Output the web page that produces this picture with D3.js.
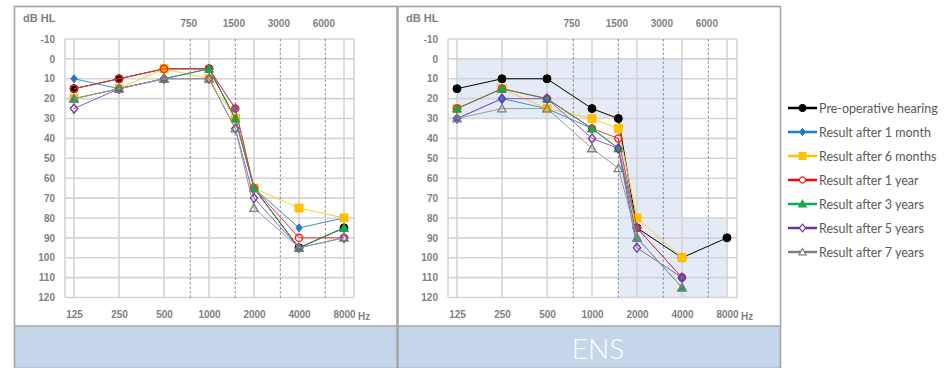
<!DOCTYPE html>
<html>
<head>
<meta charset="utf-8">
<script src="https://cdn.jsdelivr.net/npm/d3@7"></script>
<style>
  html, body { margin: 0; padding: 0; background: #fff; }
  svg { display: block; }
</style>
</head>
<body>
<svg id="chart" width="949" height="368"></svg>
<script>
// Octave frequencies on the audiogram x axis
const octaveLabels = ["125", "250", "500", "1000", "2000", "4000", "8000"];
// Half-octave frequencies drawn as dashed lines
const halfOctaveLabels = ["750", "1500", "3000", "6000"];
// Frequencies at which thresholds were measured
const measuredFreqs = [125, 250, 500, 1000, 1500, 2000, 4000, 8000];
// dB HL ticks
const dbTicks = [-10, 0, 10, 20, 30, 40, 50, 60, 70, 80, 90, 100, 110, 120];

const seriesNames = [
  "Pre-operative hearing",
  "Result after 1 month",
  "Result after 6 months",
  "Result after 1 year",
  "Result after 3 years",
  "Result after 5 years",
  "Result after 7 years"
];

// Left panel thresholds (dB HL), one value per measured frequency
const leftPreOp    = [15, 10, 5, 5, 30, 65, 95, 85];
const left1Month   = [10, 15, 10, 5, 25, 65, 85, 80];
const left6Months  = [20, 15, 5, 10, 30, 65, 75, 80];
const left1Year    = [15, 10, 5, 5, 25, 65, 90, 90];
const left3Years   = [20, 15, 10, 5, 30, 65, 95, 85];
const left5Years   = [25, 15, 10, 10, 35, 70, 95, 90];
const left7Years   = [20, 15, 10, 10, 35, 75, 95, 90];

// ENS panel thresholds (dB HL)
const ensPreOp     = [15, 10, 10, 25, 30, 85, 100, 90];
const ens1Month    = [30, 20, 25, 35, 45, 85, 110, null];
const ens6Months   = [25, 15, 25, 30, 35, 80, 100, null];
const ens1Year     = [25, 15, 20, 35, 40, 85, 110, null];
const ens3Years    = [25, 15, 20, 35, 45, 90, 115, null];
const ens5Years    = [30, 20, 20, 40, 45, 95, 110, null];
const ens7Years    = [30, 25, 25, 45, 55, 90, 115, null];

// Shaded hearing-loss area of the ENS panel: [frequency, dB] outline
const ensAreaFreqs = [125, 4000, 4000, 8000, 8000, 1500, 1500, 125];
const ensAreaDb    = [0, 0, 80, 80, 120, 120, 30, 30];

const panelTitles = ["", "ENS"];

// Series styling
const styles = [
  { line: "#000000", legend: "#000000", marker: "circle",   fill: "#000000", stroke: "#000000", size: 4.0 },
  { line: "#3a8fd6", legend: "#1f7bc8", marker: "diamond",  fill: "#1f7bc8", stroke: "#1f7bc8", size: 3.2 },
  { line: "#ffcc33", legend: "#ffc000", marker: "square",   fill: "#ffc000", stroke: "#ffc000", size: 4.0 },
  { line: "#f03a3a", legend: "#ff0000", marker: "circle",   fill: "none",    stroke: "#ff1a1a", size: 3.6 },
  { line: "#3d8f56", legend: "#00b050", marker: "triangle", fill: "#1ea150", stroke: "#1ea150", size: 4.4 },
  { line: "#8a5cc4", legend: "#7030a0", marker: "diamond",  fill: "none",    stroke: "#7030a0", size: 3.6 },
  { line: "#9a9a9a", legend: "#808080", marker: "triangle", fill: "none",    stroke: "#808080", size: 4.2 }
];

const labelFont = "'Liberation Sans', Arial, sans-serif";
const labelColor = "#7f7f7f";

const octaveIndex = f => Math.log2(f / 125);

const svg = d3.select("#chart");

function markerPath(type, r) {
  switch (type) {
    case "circle":
      return `M${-r},0A${r},${r} 0 1,0 ${r},0A${r},${r} 0 1,0 ${-r},0Z`;
    case "square":
      return `M${-r},${-r}H${r}V${r}H${-r}Z`;
    case "diamond":
      return `M0,${-r * 1.25}L${r},0L0,${r * 1.25}L${-r},0Z`;
    case "triangle":
      return `M0,${-r}L${r},${r * 0.8}L${-r},${r * 0.8}Z`;
  }
}

function styleAxisText(sel) {
  sel.selectAll("text")
    .attr("font-family", labelFont)
    .attr("font-weight", "bold")
    .attr("font-size", 10)
    .attr("fill", labelColor);
}

function drawPanel(x0, seriesValues, shaded) {
  const g = svg.append("g").attr("transform", `translate(${x0},0)`);
  const plotLeft = 51, plotRight = 340;
  const x = d3.scaleLinear().domain([0, 6]).range([60, 330]);
  const y = d3.scaleLinear().domain([-10, 120]).range([39, 297.5]);

  if (shaded) {
    const pts = ensAreaFreqs.map((f, i) => [x(octaveIndex(f)), y(ensAreaDb[i])]);
    g.append("path")
      .attr("d", d3.line()(pts) + "Z")
      .attr("fill", "#e4ebf6");
  }

  // horizontal grid
  g.append("g").selectAll("line").data(dbTicks).join("line")
    .attr("x1", plotLeft).attr("x2", plotRight)
    .attr("y1", d => y(d)).attr("y2", d => y(d))
    .attr("stroke", "#d4d4d4").attr("stroke-width", 1.6);

  // vertical grid at octaves plus plot edges
  const vx = [x.invert(plotLeft), ...octaveLabels.map((_, i) => i), x.invert(plotRight)];
  g.append("g").selectAll("line").data(vx).join("line")
    .attr("x1", d => x(d)).attr("x2", d => x(d))
    .attr("y1", y(-10)).attr("y2", y(120))
    .attr("stroke", "#d4d4d4").attr("stroke-width", 1.6);

  // dashed half-octave lines
  g.append("g").selectAll("line").data(halfOctaveLabels).join("line")
    .attr("x1", d => x(octaveIndex(+d))).attr("x2", d => x(octaveIndex(+d)))
    .attr("y1", y(-10)).attr("y2", y(120))
    .attr("stroke", "#8c8c8c").attr("stroke-width", 1)
    .attr("stroke-dasharray", "2.5,2");

  // y axis labels
  const yAxis = d3.axisLeft(y).tickValues(dbTicks).tickFormat(d => String(d)).tickSize(0).tickPadding(10);
  const ya = g.append("g").attr("transform", `translate(${plotLeft},0)`).call(yAxis);
  ya.select(".domain").remove();
  styleAxisText(ya);

  // bottom octave labels
  const xAxis = d3.axisBottom(x).tickValues(d3.range(7)).tickFormat(i => octaveLabels[i]).tickSize(0).tickPadding(13);
  const xa = g.append("g").attr("transform", `translate(0,${y(120)})`).call(xAxis);
  xa.select(".domain").remove();
  styleAxisText(xa);
  g.append("text").attr("x", x(6) + 14).attr("y", 320)
    .attr("font-family", labelFont).attr("font-weight", "bold")
    .attr("font-size", 10).attr("fill", labelColor).text("Hz");

  // top half-octave labels
  const tAxis = d3.axisTop(x).tickValues(halfOctaveLabels.map(d => octaveIndex(+d)))
    .tickFormat((d, i) => halfOctaveLabels[i]).tickSize(0).tickPadding(0);
  const ta = g.append("g").attr("transform", "translate(-2,27)").call(tAxis);
  ta.select(".domain").remove();
  styleAxisText(ta);

  g.append("text").attr("x", 9).attr("y", 22)
    .attr("font-family", labelFont).attr("font-weight", "bold")
    .attr("font-size", 11).attr("fill", labelColor).text("dB HL");

  // series
  const line = d3.line()
    .defined(d => d.v !== null)
    .x(d => x(octaveIndex(d.f)))
    .y(d => y(d.v));

  seriesValues.forEach((vals, si) => {
    const st = styles[si];
    const pts = vals.map((v, i) => ({ f: measuredFreqs[i], v }));
    g.append("path").datum(pts)
      .attr("d", line)
      .attr("fill", "none")
      .attr("stroke", st.line)
      .attr("stroke-width", 1);
    g.append("g").selectAll("path").data(pts.filter(d => d.v !== null)).join("path")
      .attr("transform", d => `translate(${x(octaveIndex(d.f))},${y(d.v)})`)
      .attr("d", markerPath(st.marker, st.size))
      .attr("fill", st.fill)
      .attr("stroke", st.stroke)
      .attr("stroke-width", st.fill === "none" ? 1.3 : 1);
  });
}

// Panel frames and title band
svg.append("rect").attr("x", 14).attr("y", 326).attr("width", 767).attr("height", 44)
  .attr("fill", "#c5d5ea");
svg.append("rect").attr("x", 14.5).attr("y", 6.5).attr("width", 382.5).attr("height", 362)
  .attr("fill", "none").attr("stroke", "#a6a6a6").attr("stroke-width", 1.6);
svg.append("rect").attr("x", 398).attr("y", 6.5).attr("width", 382.5).attr("height", 362)
  .attr("fill", "none").attr("stroke", "#a6a6a6").attr("stroke-width", 1.6);
svg.append("line").attr("x1", 14).attr("x2", 781).attr("y1", 326).attr("y2", 326)
  .attr("stroke", "#a6a6a6").attr("stroke-width", 1.6);

drawPanel(14, [leftPreOp, left1Month, left6Months, left1Year, left3Years, left5Years, left7Years], false);
drawPanel(397, [ensPreOp, ens1Month, ens6Months, ens1Year, ens3Years, ens5Years, ens7Years], true);

// Titles in the band below each panel
[205, 598].forEach((cx, i) => {
  svg.append("text").attr("x", cx).attr("y", 359).attr("text-anchor", "middle")
    .attr("font-family", "Lato, 'Open Sans', sans-serif").attr("font-weight", 300)
    .attr("font-size", 28).attr("fill", "#ffffff").text(panelTitles[i]);
});

// Legend
const legend = svg.append("g").attr("transform", "translate(788,108)");
seriesNames.forEach((name, i) => {
  const st = styles[i];
  const row = legend.append("g").attr("transform", `translate(0,${i * 24})`);
  row.append("line").attr("x1", 0).attr("x2", 29).attr("y1", 0).attr("y2", 0)
    .attr("stroke", st.legend).attr("stroke-width", 2.5);
  row.append("path").attr("transform", "translate(14.5,0)")
    .attr("d", markerPath(st.marker, st.size * 0.85))
    .attr("fill", st.fill === "none" ? "#ffffff" : st.fill)
    .attr("stroke", st.stroke).attr("stroke-width", 1.2);
  row.append("text").attr("x", 31).attr("y", 4.5)
    .attr("font-family", "Lato, 'Open Sans', sans-serif").attr("font-size", 12.5)
    .attr("fill", "#595959").text(name);
});
</script>
</body>
</html>
